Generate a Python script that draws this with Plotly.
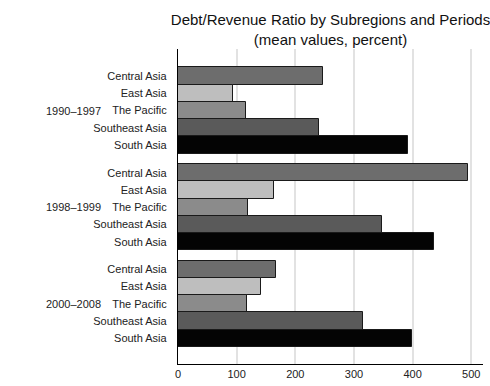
import plotly.graph_objects as go

periods = ["1990\u20131997", "1998\u20131999", "2000\u20132008"]
regions = ["Central Asia", "East Asia", "The Pacific", "Southeast Asia", "South Asia"]
values = {
    "Central Asia":   [248, 495, 167],
    "East Asia":      [94, 164, 142],
    "The Pacific":    [116, 119, 117],
    "Southeast Asia": [240, 347, 316],
    "South Asia":     [392, 436, 399],
}
colors = {
    "Central Asia": "#6d6d6d",
    "East Asia": "#bebebe",
    "The Pacific": "#8b8b8b",
    "Southeast Asia": "#5a5a5a",
    "South Asia": "#040404",
}
x_ticks = [0, 100, 200, 300, 400, 500]

# layout of slots (one slot per bar)
top_offset = 1.07
group_step = 5.6
y_total = 18.26

def ypos(g, i):
    return top_offset + g * group_step + i + 0.5

fig = go.Figure()
for i, r in enumerate(regions):
    fig.add_trace(go.Bar(
        x=values[r],
        y=[ypos(g, i) for g in range(len(periods))],
        orientation="h",
        width=1.0,
        marker=dict(color=colors[r], line=dict(color="#1a1a1a", width=1)),
        showlegend=False,
    ))

tickvals = [ypos(g, i) for g in range(len(periods)) for i in range(len(regions))]
ticktext = [r for g in range(len(periods)) for r in regions]

font_family = "Liberation Sans, Arial, sans-serif"

annotations = []
for g, p in enumerate(periods):
    annotations.append(dict(
        x=0, xref="paper", y=ypos(g, 2), yref="y",
        text=p, showarrow=False, xanchor="right", yanchor="middle",
        xshift=-75, font=dict(family=font_family, size=11, color="#222"),
    ))

fig.update_layout(
    width=490, height=386,
    margin=dict(l=178, r=7, t=49, b=22),
    plot_bgcolor="white", paper_bgcolor="white",
    font=dict(family=font_family, size=11, color="#222"),
    title=dict(
        text="Debt/Revenue Ratio by Subregions and Periods<br>(mean values, percent)",
        x=0.5, xref="paper", xanchor="center",
        y=1 - 25 / 386, yref="container", yanchor="top",
        font=dict(family=font_family, size=15, color="#111"),
    ),
    xaxis=dict(
        range=[0, 520], tickvals=x_ticks, showgrid=True,
        gridcolor="#e2e2e2", gridwidth=1.5, zeroline=False,
        showline=True, linecolor="black", linewidth=1.3,
        ticks="", tickfont=dict(size=11, color="#222"),
    ),
    yaxis=dict(
        range=[y_total, 0], tickvals=tickvals, ticktext=ticktext,
        showgrid=False, zeroline=False,
        showline=True, linecolor="black", linewidth=1.3,
        ticks="", ticklabelstandoff=8, tickfont=dict(size=11, color="#222"),
    ),
    annotations=annotations,
    bargap=0,
)

fig.write_html(
    "out.html",
    config={"displayModeBar": False},
    post_script="document.body.style.margin='0';document.body.style.overflow='hidden';",
)
